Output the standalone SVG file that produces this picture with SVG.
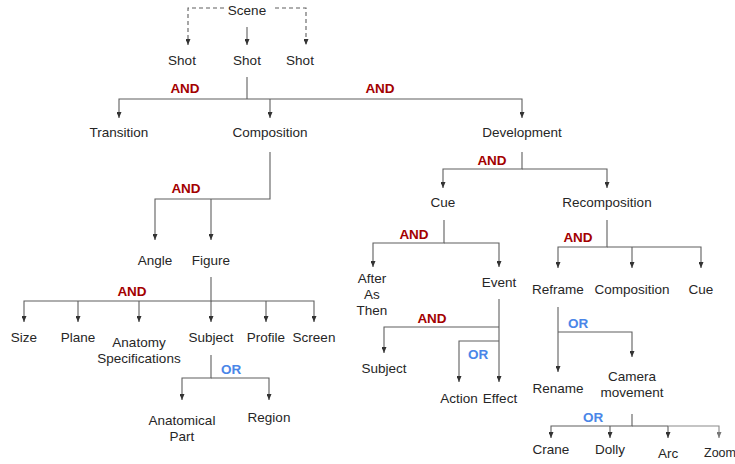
<svg xmlns="http://www.w3.org/2000/svg" width="735" height="464" viewBox="0 0 735 464">
<style>
text{font-family:"Liberation Sans",Arial,sans-serif;font-size:13.5px;fill:#262626;text-anchor:middle}
.and{font-weight:bold;fill:#a30000}
.or{font-weight:bold;fill:#4a86e8}
.c path{fill:none;stroke:#5f5f5f;stroke-width:1.1}
.c path.a{marker-end:url(#ah)}
.c path.d{stroke-dasharray:4 3}
.c path.g{stroke:#8a8a8a}
</style>
<defs>
<marker id="ah" viewBox="0 0 6 5" refX="6" refY="2.5" markerWidth="6" markerHeight="5" markerUnits="userSpaceOnUse" orient="auto">
<path d="M0,0 L6,2.5 L0,5 z" fill="#333"/>
</marker>
<marker id="ahg" viewBox="0 0 6 5" refX="6" refY="2.5" markerWidth="6" markerHeight="5" markerUnits="userSpaceOnUse" orient="auto">
<path d="M0,0 L6,2.5 L0,5 z" fill="#777"/>
</marker>
</defs>
<g class="c" id="connectors">
<path class="a d" d="M224,8 H188 V45"/>
<path class="a d" d="M275,8 H306 V45"/>
<path class="a" d="M247,27 V45"/>
<path d="M247,77 V99"/>
<path class="a" d="M247,99 H119 V118"/>
<path class="a" d="M247,99 H522 V118"/>
<path class="a" d="M270,99 V118"/>
<path class="a" d="M270,152 V199 H155 V240"/>
<path class="a" d="M211,199 V240"/>
<path class="a" d="M211,277 V301 H24 V322"/>
<path class="a" d="M211,301 H314 V322"/>
<path class="a" d="M78,301 V322"/>
<path class="a" d="M139,301 V322"/>
<path class="a" d="M211,301 V322"/>
<path class="a" d="M266,301 V322"/>
<path class="a" d="M211,355 V378 H182 V400"/>
<path class="a" d="M211,378 H269 V400"/>
<path class="a" d="M522,152 V169 H443 V188"/>
<path class="a" d="M522,169 H607 V188"/>
<path class="a" d="M444,220 V243 H373 V267"/>
<path class="a" d="M444,243 H499 V267"/>
<path class="a" d="M607,220 V247 H558 V268"/>
<path class="a" d="M607,247 H701 V268"/>
<path class="a" d="M632,247 V268"/>
<path class="a" d="M499,299 V382"/>
<path class="a" d="M499,327 H384 V353"/>
<path class="a" d="M499,341 H459 V382"/>
<path class="a" d="M558,307 V372"/>
<path class="a" d="M558,332 H632 V357"/>
<path class="a" d="M632,414 V426 H551 V438"/>
<path class="a" d="M610,426 V438"/>
<path class="a" d="M668,426 V438"/>
<path d="M632,426 H668"/>
<path class="g" style="marker-end:url(#ahg)" d="M668,426 H719 V438"/>
</g>
<g id="labels">
<text class="and" x="185" y="93">AND</text>
<text class="and" x="380" y="93">AND</text>
<text class="and" x="186" y="193">AND</text>
<text class="and" x="492" y="165">AND</text>
<text class="and" x="414" y="239">AND</text>
<text class="and" x="578" y="242">AND</text>
<text class="and" x="132" y="296">AND</text>
<text class="and" x="432" y="323">AND</text>
<text class="or" x="231" y="374">OR</text>
<text class="or" x="478" y="359">OR</text>
<text class="or" x="578" y="328">OR</text>
<text class="or" x="593" y="422">OR</text>
</g>
<g id="scene"><text x="247" y="15">Scene</text></g>
<g id="shot1"><text x="182" y="65">Shot</text></g>
<g id="shot2"><text x="247" y="65">Shot</text></g>
<g id="shot3"><text x="300" y="65">Shot</text></g>
<g id="transition"><text x="119" y="137">Transition</text></g>
<g id="composition"><text x="270" y="137">Composition</text></g>
<g id="development"><text x="522" y="137">Development</text></g>
<g id="angle"><text x="155" y="265">Angle</text></g>
<g id="figure"><text x="211" y="265">Figure</text></g>
<g id="size"><text x="24" y="342">Size</text></g>
<g id="plane"><text x="78" y="342">Plane</text></g>
<g id="anatomy"><text x="139" y="347">Anatomy</text><text x="139" y="363">Specifications</text></g>
<g id="subject"><text x="211" y="342">Subject</text></g>
<g id="profile"><text x="266" y="342">Profile</text></g>
<g id="screen"><text x="314" y="342">Screen</text></g>
<g id="anatomical"><text x="182" y="425">Anatomical</text><text x="182" y="441">Part</text></g>
<g id="region"><text x="269" y="422">Region</text></g>
<g id="cue"><text x="443" y="207">Cue</text></g>
<g id="recomposition"><text x="607" y="207">Recomposition</text></g>
<g id="afterasthen"><text x="372" y="283">After</text><text x="372" y="299">As</text><text x="372" y="315">Then</text></g>
<g id="event"><text x="499" y="287">Event</text></g>
<g id="subject2"><text x="384" y="373">Subject</text></g>
<g id="action"><text x="459" y="403">Action</text></g>
<g id="effect"><text x="500" y="403">Effect</text></g>
<g id="reframe"><text x="558" y="294">Reframe</text></g>
<g id="composition2"><text x="632" y="294">Composition</text></g>
<g id="cue2"><text x="701" y="294">Cue</text></g>
<g id="rename"><text x="558" y="393">Rename</text></g>
<g id="camera"><text x="632" y="381">Camera</text><text x="632" y="397">movement</text></g>
<g id="crane"><text x="551" y="454">Crane</text></g>
<g id="dolly"><text x="610" y="454">Dolly</text></g>
<g id="arc"><text x="668" y="458">Arc</text></g>
<g id="zoom"><text x="704" y="457" style="text-anchor:start;font-size:12.5px">Zoom</text></g>
</svg>
